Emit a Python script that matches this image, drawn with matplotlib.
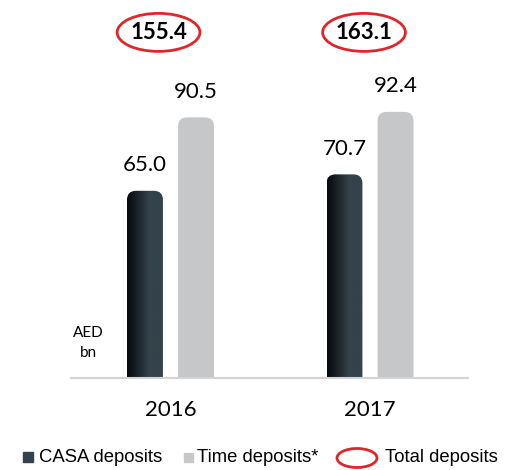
import matplotlib
matplotlib.use("Agg")
import matplotlib.pyplot as plt
import numpy as np
from matplotlib.patches import FancyBboxPatch, Ellipse, Rectangle
from matplotlib.colors import LinearSegmentedColormap

# 数据（单位：十亿迪拉姆）
years = ["2016", "2017"]
casa = [65.0, 70.7]
time_dep = [90.5, 92.4]
totals = [155.4, 163.1]

CASA_DARK = "#07090b"
CASA_COLOR = "#34424b"
TIME_COLOR = "#c6c7c9"
RED = "#e0262b"

plt.rcParams['font.family'] = ['Lato', 'DejaVu Sans']

W, H = 511, 470
fig = plt.figure(figsize=(W / 100, H / 100), dpi=100)

# 坐标轴：底线在 y=378px，左右从 71px 到 468px
px_x = 199.5   # 每个 x 单位的像素
px_y = 2.88    # 每个 y 单位的像素
x_left, x_right = 71, 468
base = 378
ax = fig.add_axes([x_left / W, (H - base) / H, (x_right - x_left) / W, base / H])
ax.set_xlim((x_left - 170.5) / px_x, (x_right - 170.5) / px_x)
ax.set_ylim(0, base / px_y)
for s in ["top", "right", "left"]:
    ax.spines[s].set_visible(False)
ax.spines["bottom"].set_color("#d4d4d4")
ax.spines["bottom"].set_linewidth(1.5)
ax.set_yticks([])

x = np.arange(len(years))
bw = 0.18
off = 0.128
rad = 0.045
aspect = px_x / px_y

grad = np.linspace(0, 1, 64).reshape(1, -1)
casa_cmap = LinearSegmentedColormap.from_list(
    "casa", [(0, CASA_DARK), (0.45, "#27323a"), (0.6, CASA_COLOR), (1, CASA_COLOR)])


def rounded_bar(xc, h, **kw):
    # 圆角顶部的柱子，底部延伸到 0 以下后被坐标轴裁掉
    p = FancyBboxPatch((xc - bw / 2 + rad, -10), bw - 2 * rad, h + 10 - rad * aspect,
                       boxstyle=f"round,pad={rad}", mutation_aspect=aspect, **kw)
    ax.add_patch(p)
    return p


for i in range(len(years)):
    # CASA 柱（左暗右亮渐变）
    p = rounded_bar(x[i] - off, casa[i], facecolor="none", edgecolor="none")
    im = ax.imshow(grad, cmap=casa_cmap, aspect="auto",
                   extent=(x[i] - off - bw / 2, x[i] - off + bw / 2, 0, casa[i]),
                   zorder=2)
    im.set_clip_path(p)
    # 定期存款柱
    rounded_bar(x[i] + off, time_dep[i], facecolor=TIME_COLOR, edgecolor="none", zorder=2)

    ax.annotate(f"{casa[i]:.1f}", (x[i] - off, casa[i]), xytext=(0, 14),
                textcoords="offset points", ha="center", va="baseline", fontsize=16)
    ax.annotate(f"{time_dep[i]:.1f}", (x[i] + off, time_dep[i]), xytext=(0, 14),
                textcoords="offset points", ha="center", va="baseline", fontsize=16)

    # 总存款（红色椭圆）
    ex = x[i] - (0.06 if i == 0 else 0.03)
    ey = 120
    ax.add_patch(Ellipse((ex, ey), 0.415, 13.2, facecolor="none", edgecolor=RED,
                         lw=2, clip_on=False))
    ax.text(ex, ey, f"{totals[i]:.1f}", ha="center", va="center",
            fontsize=16, fontweight="bold")

ax.set_xticks(x)
ax.set_xticklabels(years, fontsize=16)
ax.tick_params(axis="x", length=0, pad=16)

ax.text((88.5 - 170.5) / px_x, (base - 343) / px_y, "AED\nbn", ha="center", va="center",
        fontsize=11, linespacing=1.5)

# 图例
def fx(px):
    return px / W


def fy(py):
    return 1 - py / H


leg_font = dict(family=["Liberation Sans", "DejaVu Sans"], fontsize=13.3, va="center")
ly = 458
fig.add_artist(Rectangle((fx(23), fy(462)), 10 / W, 10 / H, color=CASA_COLOR,
                         transform=fig.transFigure))
fig.text(fx(39), fy(ly), "CASA deposits", **leg_font)
fig.add_artist(Rectangle((fx(184), fy(462)), 9 / W, 9 / H, color=TIME_COLOR,
                         transform=fig.transFigure))
fig.text(fx(197), fy(ly), "Time deposits*", **leg_font)
fig.add_artist(Ellipse((fx(357), fy(ly)), 40 / W, 19 / H, facecolor="none",
                       edgecolor=RED, lw=2, transform=fig.transFigure))
fig.text(fx(385), fy(ly), "Total deposits", **leg_font)

fig.savefig("out.png", dpi=100)
